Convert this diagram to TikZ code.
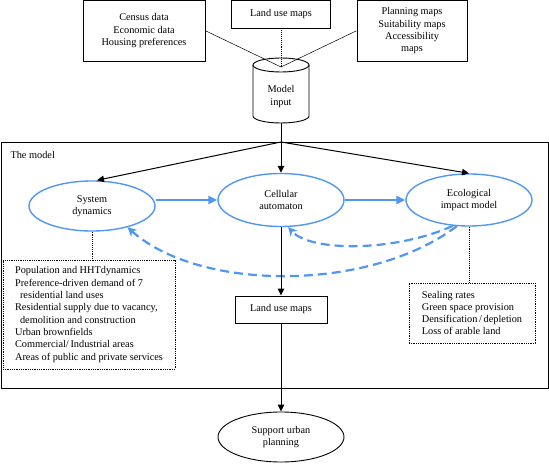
\documentclass[tikz,border=0pt]{standalone}
\usepackage{fontspec}
\setmainfont{Liberation Serif}
\usetikzlibrary{shapes.geometric,arrows.meta}
\definecolor{modelblue}{RGB}{80,150,245}
\tikzset{
  databox/.style={draw, line width=0.9pt, align=center, inner sep=2pt},
  notebox/.style={draw, densely dotted, line width=0.8pt, align=left, inner sep=0pt},
  submodel/.style={ellipse, draw=modelblue, line width=1.4pt, align=center, minimum width=126pt, minimum height=51pt, inner sep=0pt},
  flow/.style={line width=1pt, -{Triangle[length=7pt,width=6.5pt]}},
  coupling/.style={modelblue, line width=2.6pt, -{Triangle[length=9pt,width=8pt]}},
  feedback/.style={modelblue, line width=2.2pt, dash pattern=on 9pt off 5pt, -{Stealth[length=9pt,width=9pt]}},
  link/.style={densely dotted, line width=0.9pt}
}
\begin{document}
\begin{tikzpicture}[x=1pt, y=1pt, every node/.style={font=\fontsize{10.3}{12.3}\selectfont}]
\useasboundingbox (0,0) rectangle (549,464);

% Daten
\node[databox, minimum width=122pt, minimum height=60.5pt] (census) at (144,433.25) {Census data\\Economic data\\Housing preferences};
\node[databox, minimum width=99pt, minimum height=27.5pt] (lumtop) at (281,449.75) {Land use maps};
\node[databox, minimum width=110pt, minimum height=60.5pt] (planning) at (412,433.25) {Planning maps\\Suitability maps\\Accessibility\\maps};

% Zylinder
\draw[line width=0.9pt] (253,399) -- (253,348) arc[start angle=180, end angle=360, x radius=28, y radius=7] -- (309,399);
\draw[line width=0.9pt] (281,399) ellipse[x radius=28, y radius=7];
\node[align=center] (input) at (281,367.5) {Model\\input};
\coordinate (intop) at (281,397);
\coordinate (inbot) at (281,341);
\draw[line width=0.5pt] (census.east) -- (intop) -- (planning.west);
\draw[link] (lumtop) -- (intop);

% Modell
\node[draw, line width=1pt, minimum width=547pt, minimum height=245.5pt, inner sep=0pt] (modelbox) at (274.5,198.75) {};
\node[anchor=west] (modellabel) at (7,309) {The model};
\coordinate (split) at (inbot |- modelbox.north);

\node[submodel, minimum height=50pt] (sd) at (92,258) {System\\dynamics};
\node[submodel, minimum height=53pt] (ca) at (281,264) {Cellular\\automaton};
\node[submodel, minimum height=52pt] (eco) at (469,264) {Ecological\\impact model};

\draw[flow] (inbot) -- (ca);
\draw[flow] (split) -- ([xshift=5pt]sd.north);
\draw[flow] (split) -- (eco.north);

\draw[coupling] (sd.east |- ca.west) -- (ca.west);
\draw[coupling] (ca) -- (eco);
\draw[feedback] (eco.245) .. controls (370,172) and (200,172) .. (sd.-31);
\draw[feedback] (eco.238) .. controls (395,212) and (310,212) .. (ca.-75);

\node[notebox, minimum width=172pt, minimum height=109pt] (sdnotes) at (89,149.5) {Population and HHTdynamics\\Preference-driven demand of 7\\\hspace*{5pt}residential land uses\\Residential supply due to vacancy,\\\hspace*{5pt}demolition and construction\\Urban brownfields\\Commercial/\,Industrial areas\\Areas of public and private services};
\node[notebox, minimum width=126pt, minimum height=60pt] (econotes) at (472,151) {Sealing rates\\Green space provision\\Densification\,/\,depletion\\Loss of arable land};
\draw[link] (sd.south) -- (sd.south |- sdnotes.north);
\draw[link] (eco.south) -- (eco.south |- econotes.north);

\node[databox, minimum width=92pt, minimum height=27pt] (lumout) at (281,154.5) {Land use maps};
\draw[flow] (ca) -- (lumout);

% Ergebnis
\node[ellipse, draw, line width=0.9pt, minimum width=126pt, minimum height=50pt, align=center, inner sep=0pt] (support) at (281,27) {Support urban\\planning};
\draw[flow] (lumout) -- (support);
\end{tikzpicture}
\end{document}
